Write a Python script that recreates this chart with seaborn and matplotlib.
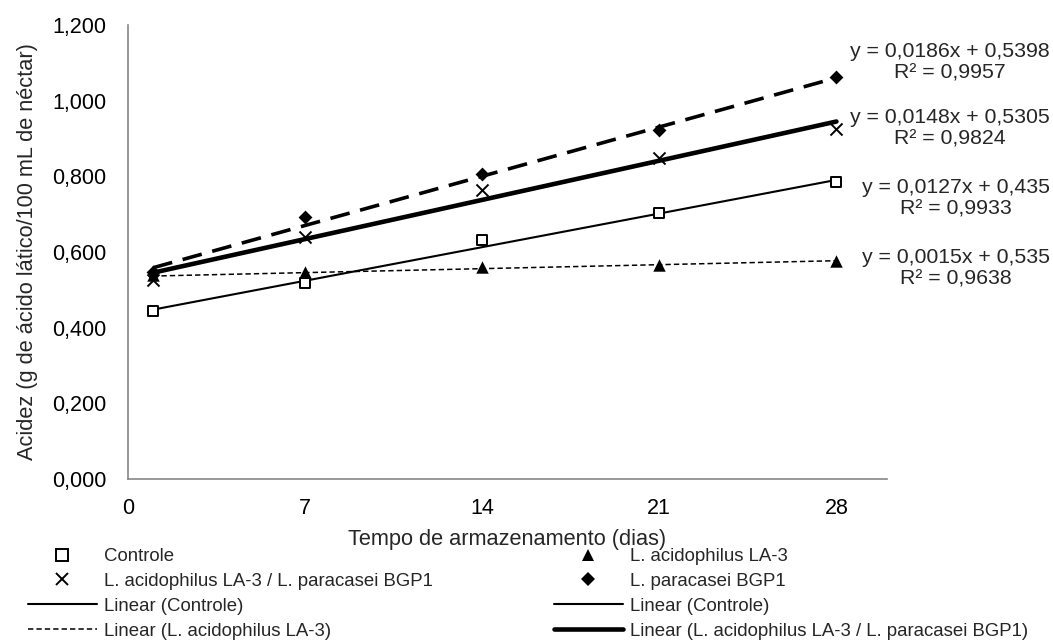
import numpy as np
import pandas as pd
import matplotlib
matplotlib.use("Agg")
import matplotlib.pyplot as plt
from matplotlib.lines import Line2D
from matplotlib.ticker import FuncFormatter, FixedLocator
import seaborn as sns

# ---------------- data ----------------
days = [1, 7, 14, 21, 28]
controle = [0.445, 0.518, 0.633, 0.702, 0.786]
la3 = [0.538, 0.547, 0.560, 0.565, 0.577]
mix = [0.525, 0.640, 0.765, 0.848, 0.925]
paracasei = [0.548, 0.692, 0.805, 0.922, 1.063]

series_names = ["Controle", "L. acidophilus LA-3",
                "L. acidophilus LA-3 / L. paracasei BGP1", "L. paracasei BGP1"]
slopes = [0.0127, 0.0015, 0.0148, 0.0186]
intercepts = [0.435, 0.535, 0.5305, 0.5398]
eq_labels = ["y = 0,0127x + 0,435\nR² = 0,9933",
             "y = 0,0015x + 0,535\nR² = 0,9638",
             "y = 0,0148x + 0,5305\nR² = 0,9824",
             "y = 0,0186x + 0,5398\nR² = 0,9957"]
x_ticks = [0, 7, 14, 21, 28]
y_ticks = [0.0, 0.2, 0.4, 0.6, 0.8, 1.0, 1.2]

# ---------------- style ----------------
sns.set_style("white")
plt.rcParams['font.family'] = ['Liberation Sans', 'DejaVu Sans']

fig = plt.figure(figsize=(10.53, 6.41), dpi=100)
ax = fig.add_axes([0.1213, 0.2527, 0.8424 - 0.1213, 0.961 - 0.2527])

axis_gray = "#868686"
values = [controle, la3, mix, paracasei]

# trend lines
line_styles = [
    dict(lw=1.5, ls="-"),
    dict(lw=1.1, dashes=(3.5, 2.0)),
    dict(lw=3.3, ls="-"),
    dict(lw=2.6, dashes=(5.5, 3.0)),
]
xfit = [days[0], days[-1]]
for m, b, st in zip(slopes, intercepts, line_styles):
    yfit = [m * xv + b for xv in xfit]
    sns.lineplot(x=xfit, y=yfit, ax=ax, color="black", zorder=2, **st)

# markers
marker_styles = [
    dict(marker="s", s=62, facecolor="white", edgecolor="black", linewidth=1.4),
    dict(marker="^", s=80, color="black", linewidth=0),
    dict(marker="x", s=75, color="black", linewidth=1.4),
    dict(marker="D", s=50, color="black", linewidth=0),
]
for vals, ms in zip(values, marker_styles):
    sns.scatterplot(x=days, y=vals, ax=ax, zorder=3, **ms)

ax.set_xlim(0, 30)
ax.set_ylim(0, 1.2)
ax.xaxis.set_major_locator(FixedLocator(x_ticks))
ax.yaxis.set_major_locator(FixedLocator(y_ticks))
ax.yaxis.set_major_formatter(FuncFormatter(lambda v, p: f"{v:.3f}".replace(".", ",")))
ax.xaxis.set_major_formatter(FuncFormatter(lambda v, p: f"{int(v)}"))

for side in ["top", "right"]:
    ax.spines[side].set_visible(False)
for side in ["left", "bottom"]:
    ax.spines[side].set_color(axis_gray)
    ax.spines[side].set_linewidth(1.2)

ax.tick_params(axis="both", direction="out", length=4.5, width=1.0,
               color=axis_gray, labelsize=15.5, labelcolor="black")
ax.tick_params(axis="y", pad=11)
ax.tick_params(axis="x", pad=9.5)
ax.grid(False)

ax.set_xlabel("Tempo de armazenamento (dias)", fontsize=15.7, labelpad=7)
ax.set_ylabel("Acidez (g de ácido lático/100 mL de néctar)", fontsize=15.7, labelpad=10)

# equation annotations (right side)
eq_y_px = [198, 268, 128, 62]
for lab, ypx in zip(eq_labels, eq_y_px):
    fig.text(1050 / 1053, 1 - ypx / 641, lab, ha="right", va="center",
             multialignment="center", fontsize=15.3, linespacing=1.15)

# legend
def mk(marker, ms, mfc, mec, mew):
    return Line2D([], [], ls="none", marker=marker, markersize=ms,
                  markerfacecolor=mfc, markeredgecolor=mec, markeredgewidth=mew)

h_ctrl = mk("s", 8, "white", "black", 1.4)
h_la3 = mk("^", 9, "black", "black", 0)
h_mix = mk("x", 8.5, "black", "black", 1.4)
h_par = mk("D", 7, "black", "black", 0)
h_lin_ctrl = Line2D([], [], color="black", lw=1.5)
h_lin_la3 = Line2D([], [], color="black", lw=1.1, dashes=(3.5, 2.0))
h_lin_mix = Line2D([], [], color="black", lw=3.3)

handles = [h_ctrl, h_mix, h_lin_ctrl, h_lin_la3,
           h_la3, h_par, h_lin_ctrl, h_lin_mix]
labels = [series_names[0], series_names[2], "Linear (Controle)",
          "Linear (L. acidophilus LA-3)",
          series_names[1], series_names[3], "Linear (Controle)",
          "Linear (L. acidophilus LA-3 / L. paracasei BGP1)"]
leg = fig.legend(handles, labels, ncol=2, loc="upper left",
                 bbox_to_anchor=(28 / 1053, 1 - 548 / 641),
                 frameon=False, fontsize=13.4, handlelength=3.7,
                 handletextpad=0.38, columnspacing=6.5, labelspacing=0.42,
                 borderpad=0, borderaxespad=0)

fig.savefig("out.png", dpi=100)
